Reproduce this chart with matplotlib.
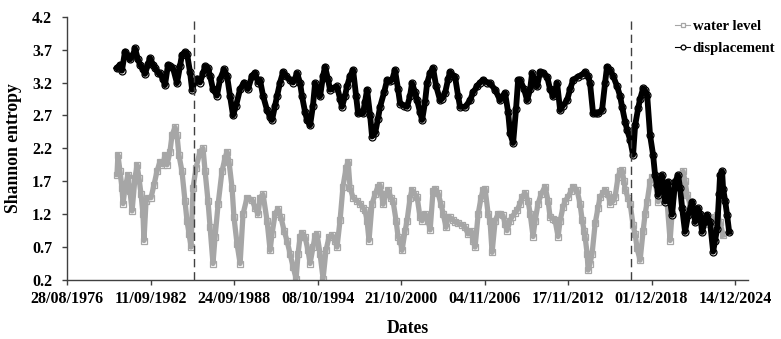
import matplotlib
matplotlib.use("Agg")
import matplotlib.pyplot as plt
import matplotlib.dates as mdates
from datetime import datetime, timedelta

plt.rcParams['font.family'] = ['Liberation Serif', 'DejaVu Serif']
plt.rcParams['font.weight'] = 'bold'

# displacement entropy (decimal year, value)
disp_years = [1980.27, 1980.49, 1980.63, 1980.85, 1981.07, 1981.21, 1981.43, 1981.57, 1981.79, 1981.94,
              1982.15, 1982.30, 1982.51, 1982.66, 1982.88, 1983.02, 1983.24, 1983.38, 1983.60, 1983.74,
              1983.96, 1984.10, 1984.32, 1984.61, 1984.83, 1984.97, 1985.19, 1985.33, 1985.55, 1985.70,
              1985.91, 1986.06, 1986.27, 1986.49, 1986.64, 1986.85, 1987.00, 1987.21, 1987.50, 1987.72,
              1988.01, 1988.23, 1988.44, 1988.66, 1988.88, 1989.17, 1989.45, 1989.74, 1990.03, 1990.25,
              1990.47, 1990.61, 1990.83, 1991.12, 1991.34, 1991.48, 1991.70, 1991.84, 1992.06, 1992.28,
              1992.49, 1992.78, 1993.00, 1993.29, 1993.50, 1993.65, 1993.87, 1994.01, 1994.23, 1994.44,
              1994.59, 1994.81, 1994.95, 1995.17, 1995.31, 1995.53, 1995.67, 1995.96, 1996.18, 1996.40,
              1996.54, 1996.76, 1996.90, 1997.12, 1997.34, 1997.55, 1997.70, 1997.92, 1998.06, 1998.20,
              1998.35, 1998.57, 1998.71, 1998.93, 1999.14, 1999.29, 1999.58, 1999.80, 2000.01, 2000.16,
              2000.37, 2000.59, 2000.74, 2001.02, 2001.24, 2001.46, 2001.60, 2001.82, 2001.97, 2002.18,
              2002.33, 2002.54, 2002.69, 2002.91, 2003.12, 2003.34, 2003.63, 2003.77, 2003.99, 2004.21,
              2004.35, 2004.57, 2004.71, 2004.93, 2005.07, 2005.44, 2005.80, 2006.01, 2006.30, 2006.52,
              2006.74, 2007.03, 2007.24, 2007.61, 2007.97, 2008.18, 2008.33, 2008.55, 2008.69, 2008.91,
              2009.12, 2009.27, 2009.41, 2009.70, 2009.92, 2010.14, 2010.28, 2010.50, 2010.64, 2010.86,
              2011.08, 2011.37, 2011.58, 2011.80, 2012.09, 2012.31, 2012.52, 2012.81, 2013.03, 2013.25,
              2013.61, 2013.90, 2014.11, 2014.33, 2014.47, 2014.69, 2014.91, 2015.05, 2015.34, 2015.56,
              2015.70, 2015.92, 2016.14, 2016.43, 2016.64, 2016.79, 2017.01, 2017.15, 2017.37, 2017.58,
              2017.73, 2017.95, 2018.09, 2018.31, 2018.45, 2018.60, 2018.81, 2019.03, 2019.17, 2019.32,
              2019.39, 2019.54, 2019.68, 2019.90, 2020.11, 2020.26, 2020.40, 2020.62, 2020.84, 2020.98,
              2021.13, 2021.34, 2021.56, 2021.85, 2022.07, 2022.28, 2022.43, 2022.57, 2022.79, 2022.93,
              2023.15, 2023.37, 2023.51, 2023.66, 2023.80, 2023.87, 2024.02, 2024.09, 2024.24, 2024.38,
              2024.53]
disp_vals = [3.42, 3.47, 3.38, 3.67, 3.60, 3.55, 3.62, 3.72, 3.55, 3.47,
             3.40, 3.33, 3.48, 3.57, 3.47, 3.42, 3.35, 3.34, 3.25, 3.16,
             3.47, 3.45, 3.42, 3.19, 3.45, 3.62, 3.66, 3.64, 3.36, 3.09,
             3.22, 3.26, 3.20, 3.34, 3.45, 3.42, 3.30, 3.10, 3.00, 3.25,
             3.40, 3.30, 3.00, 2.70, 2.85, 3.10, 3.20, 3.10, 3.30, 3.35,
             3.20, 3.24, 3.00, 2.78, 2.68, 2.63, 2.85, 2.99, 3.20, 3.36,
             3.30, 3.24, 3.20, 3.34, 3.20, 2.99, 2.75, 2.63, 2.55, 2.85,
             3.19, 3.05, 2.99, 3.30, 3.44, 3.25, 3.09, 3.12, 3.14, 2.95,
             2.83, 3.00, 3.14, 3.30, 3.39, 3.00, 2.73, 2.75, 2.73, 2.90,
             3.09, 2.70, 2.38, 2.43, 2.65, 2.83, 3.05, 3.24, 3.22, 3.24,
             3.39, 3.10, 2.88, 2.85, 2.83, 3.00, 3.19, 3.05, 2.93, 2.75,
             2.63, 2.90, 3.19, 3.35, 3.42, 3.15, 2.93, 2.95, 3.04, 3.25,
             3.36, 3.30, 3.29, 3.00, 2.83, 2.83, 2.93, 3.05, 3.14, 3.20,
             3.24, 3.20, 3.19, 3.09, 2.93, 3.00, 3.04, 2.75, 2.43, 2.28,
             2.80, 3.24, 3.24, 3.10, 2.93, 3.10, 3.34, 3.20, 3.14, 3.36,
             3.35, 3.29, 3.10, 2.99, 3.19, 2.78, 2.85, 2.93, 3.10, 3.24,
             3.29, 3.32, 3.36, 3.30, 3.19, 2.73, 2.73, 2.73, 2.78, 3.20,
             3.44, 3.39, 3.30, 3.14, 3.00, 2.83, 2.60, 2.48, 2.33, 2.10,
             2.55, 2.81, 2.95, 3.11, 3.08, 3.01, 2.40, 2.10, 1.80, 1.64,
             1.49, 1.70, 1.79, 1.39, 1.69, 1.40, 1.19, 1.69, 1.79, 1.60,
             1.29, 0.93, 1.19, 1.39, 1.08, 1.29, 1.20, 0.93, 1.10, 1.19,
             1.08, 0.63, 0.80, 0.98, 1.50, 1.79, 1.85, 1.59, 1.40, 1.19,
             0.93]

# water level entropy (decimal year, value)
water_years = [1980.27, 1980.34, 1980.49, 1980.63, 1980.71, 1980.85, 1981.07, 1981.21, 1981.36, 1981.57,
               1981.72, 1981.86, 1982.01, 1982.15, 1982.22, 1982.37, 1982.51, 1982.73, 1982.95, 1983.16,
               1983.38, 1983.60, 1983.74, 1983.89, 1984.10, 1984.25, 1984.47, 1984.61, 1984.75, 1984.97,
               1985.19, 1985.33, 1985.48, 1985.62, 1985.77, 1985.98, 1986.27, 1986.49, 1986.64, 1986.85,
               1987.00, 1987.21, 1987.36, 1987.58, 1987.86, 1988.08, 1988.23, 1988.37, 1988.59, 1988.73,
               1988.95, 1989.17, 1989.38, 1989.67, 1990.03, 1990.25, 1990.47, 1990.61, 1990.83, 1991.12,
               1991.34, 1991.48, 1991.70, 1991.91, 1992.13, 1992.35, 1992.56, 1992.78, 1993.00, 1993.22,
               1993.36, 1993.50, 1993.65, 1993.87, 1994.08, 1994.23, 1994.44, 1994.59, 1994.73, 1994.95,
               1995.17, 1995.38, 1995.60, 1995.82, 1996.04, 1996.18, 1996.40, 1996.61, 1996.83, 1996.98,
               1997.12, 1997.34, 1997.63, 1997.84, 1998.06, 1998.20, 1998.35, 1998.49, 1998.71, 1998.93,
               1999.14, 1999.29, 1999.51, 1999.72, 1999.87, 2000.08, 2000.23, 2000.45, 2000.59, 2000.74,
               2000.88, 2001.10, 2001.24, 2001.46, 2001.60, 2001.82, 2001.97, 2002.18, 2002.33, 2002.54,
               2002.76, 2002.91, 2003.12, 2003.27, 2003.48, 2003.70, 2003.85, 2004.06, 2004.21, 2004.35,
               2004.57, 2004.71, 2004.93, 2005.22, 2005.44, 2005.65, 2005.87, 2006.01, 2006.16, 2006.38,
               2006.59, 2006.74, 2006.88, 2007.10, 2007.24, 2007.39, 2007.61, 2007.82, 2007.97, 2008.18,
               2008.33, 2008.47, 2008.69, 2008.83, 2009.05, 2009.20, 2009.41, 2009.56, 2009.77, 2009.99,
               2010.14, 2010.35, 2010.50, 2010.71, 2010.93, 2011.22, 2011.44, 2011.58, 2011.80, 2011.94,
               2012.16, 2012.31, 2012.52, 2012.67, 2012.88, 2013.10, 2013.25, 2013.53, 2013.75, 2013.90,
               2014.04, 2014.11, 2014.26, 2014.33, 2014.47, 2014.62, 2014.84, 2015.05, 2015.20, 2015.41,
               2015.56, 2015.78, 2015.92, 2016.14, 2016.28, 2016.50, 2016.64, 2016.79, 2016.93, 2017.01,
               2017.22, 2017.37, 2017.58, 2017.73, 2017.87, 2018.09, 2018.31, 2018.45, 2018.60, 2018.81,
               2018.96, 2019.17, 2019.39, 2019.68, 2019.90, 2020.04, 2020.26, 2020.40, 2020.62, 2020.84,
               2020.98, 2021.20, 2021.34, 2021.49, 2021.71, 2021.85, 2022.07, 2022.21, 2022.43, 2022.57,
               2022.79, 2022.93, 2023.15, 2023.30, 2023.51, 2023.66, 2023.87, 2024.09]
water_vals = [1.80, 2.10, 1.85, 1.60, 1.36, 1.60, 1.80, 1.55, 1.25, 1.75,
              1.95, 1.75, 1.50, 1.20, 0.80, 1.40, 1.45, 1.45, 1.65, 1.85,
              2.00, 1.95, 2.10, 1.95, 2.15, 2.40, 2.52, 2.40, 2.10, 1.85,
              1.40, 1.10, 0.90, 0.70, 1.60, 1.90, 2.15, 2.20, 1.85, 1.40,
              1.00, 0.45, 0.85, 1.35, 1.85, 2.05, 2.15, 2.00, 1.60, 1.15,
              0.75, 0.45, 1.20, 1.45, 1.42, 1.30, 1.20, 1.45, 1.50, 1.10,
              0.65, 0.90, 1.20, 1.28, 1.15, 0.95, 0.80, 0.60, 0.40, 0.22,
              0.60, 0.85, 0.92, 0.85, 0.65, 0.45, 0.70, 0.87, 0.90, 0.60,
              0.22, 0.65, 0.85, 0.88, 0.80, 0.70, 1.11, 1.62, 1.90, 2.00,
              1.60, 1.45, 1.40, 1.36, 1.30, 1.26, 1.10, 0.80, 1.36, 1.50,
              1.62, 1.64, 1.35, 1.50, 1.57, 1.45, 1.40, 1.10, 0.86, 0.80,
              0.65, 0.95, 1.10, 1.45, 1.57, 1.50, 1.46, 1.15, 1.10, 1.21,
              1.10, 0.96, 1.55, 1.59, 1.52, 1.35, 1.21, 1.00, 1.16, 1.15,
              1.11, 1.08, 1.06, 1.04, 1.00, 0.90, 0.95, 0.80, 0.70, 1.20,
              1.45, 1.57, 1.59, 1.21, 1.10, 0.62, 1.10, 1.20, 1.21, 1.18,
              1.05, 0.95, 1.10, 1.16, 1.22, 1.26, 1.36, 1.46, 1.52, 1.40,
              1.21, 0.86, 1.10, 1.36, 1.50, 1.62, 1.40, 1.16, 1.13, 1.11,
              0.86, 1.10, 1.31, 1.40, 1.46, 1.55, 1.62, 1.57, 1.35, 1.11,
              0.95, 0.86, 0.60, 0.35, 0.45, 0.60, 1.06, 1.30, 1.46, 1.52,
              1.57, 1.50, 1.36, 1.40, 1.46, 1.77, 1.85, 1.87, 1.70, 1.57,
              1.45, 1.36, 1.03, 0.90, 0.68, 0.50, 0.95, 1.20, 1.39, 1.69,
              1.77, 1.74, 1.39, 1.49, 1.45, 1.39, 0.80, 1.20, 1.69, 1.75,
              1.80, 1.85, 1.70, 1.49, 1.35, 1.24, 1.20, 1.19, 1.10, 1.03,
              1.05, 1.08, 1.08, 1.08, 1.15, 1.19, 1.08, 0.88]

tick_dates = ['28/08/1976', '11/09/1982', '24/09/1988', '08/10/1994', '21/10/2000',
              '04/11/2006', '17/11/2012', '01/12/2018', '14/12/2024']
break_dates = [datetime(1985, 11, 1), datetime(2017, 6, 10)]


def to_date(y):
    base = datetime(int(y), 1, 1)
    return base + timedelta(days=(y - int(y)) * 365.25)


disp_dates = [to_date(y) for y in disp_years]
water_dates = [to_date(y) for y in water_years]
ticks = [datetime.strptime(t, '%d/%m/%Y') for t in tick_dates]

fig = plt.figure(figsize=(7.81, 3.39), dpi=100)
ax = fig.add_axes([67 / 781, 1 - 280 / 339, (748 - 67) / 781, (280 - 16.7) / 339])

grey = '#a6a6a6'
# markers first, thick band drawn over them so only the rims peek out
ax.plot(water_dates, water_vals, color=grey, lw=0.8, marker='s', ms=4.6,
        mfc='white', mec=grey, mew=0.9, label='water level', zorder=2)
ax.plot(water_dates, water_vals, color=grey, lw=3.8, solid_joinstyle='round', zorder=2.1)
ax.plot(disp_dates, disp_vals, color='black', lw=0.8, marker='o', ms=5.0,
        mfc='white', mec='black', mew=0.9, label='displacement', zorder=3)
ax.plot(disp_dates, disp_vals, color='black', lw=4.2, solid_joinstyle='round', zorder=3.1)

for d in break_dates:
    ax.axvline(d, color='#404040', lw=1.0, dashes=(6, 3.5), zorder=4)

ax.set_xlim(datetime(1976, 8, 28), datetime(2025, 11, 22))
ax.set_ylim(0.2, 4.2)
ax.set_xticks(ticks)
ax.xaxis.set_major_formatter(mdates.DateFormatter('%d/%m/%Y'))
ax.set_yticks([0.2, 0.7, 1.2, 1.7, 2.2, 2.7, 3.2, 3.7, 4.2])
ax.set_yticklabels(['%.1f' % v for v in ax.get_yticks()])

for s in ['top', 'right']:
    ax.spines[s].set_visible(False)
for s in ['left', 'bottom']:
    ax.spines[s].set_color('#404040')
    ax.spines[s].set_linewidth(1.0)
ax.tick_params(axis='x', direction='out', length=3.6, width=1, colors='#404040',
               labelcolor='black', labelsize=11.5, pad=4.5)
ax.tick_params(axis='y', direction='out', length=3.6, width=1, colors='#404040',
               labelcolor='black', labelsize=11.5, pad=7)

ax.set_xlabel('Dates', fontsize=12.7, fontweight='bold', labelpad=9)
ax.set_ylabel('Shannon entropy', fontsize=12.7, fontweight='bold', labelpad=7)

ax.legend(loc='upper left', bbox_to_anchor=(675 / 781, 1 - 20 / 339),
          bbox_transform=fig.transFigure, frameon=False, fontsize=10.6,
          handlelength=1.05, handletextpad=0.15, borderpad=0, borderaxespad=0,
          labelspacing=0.6, markerscale=0.7)

fig.savefig('out.png', dpi=100)
